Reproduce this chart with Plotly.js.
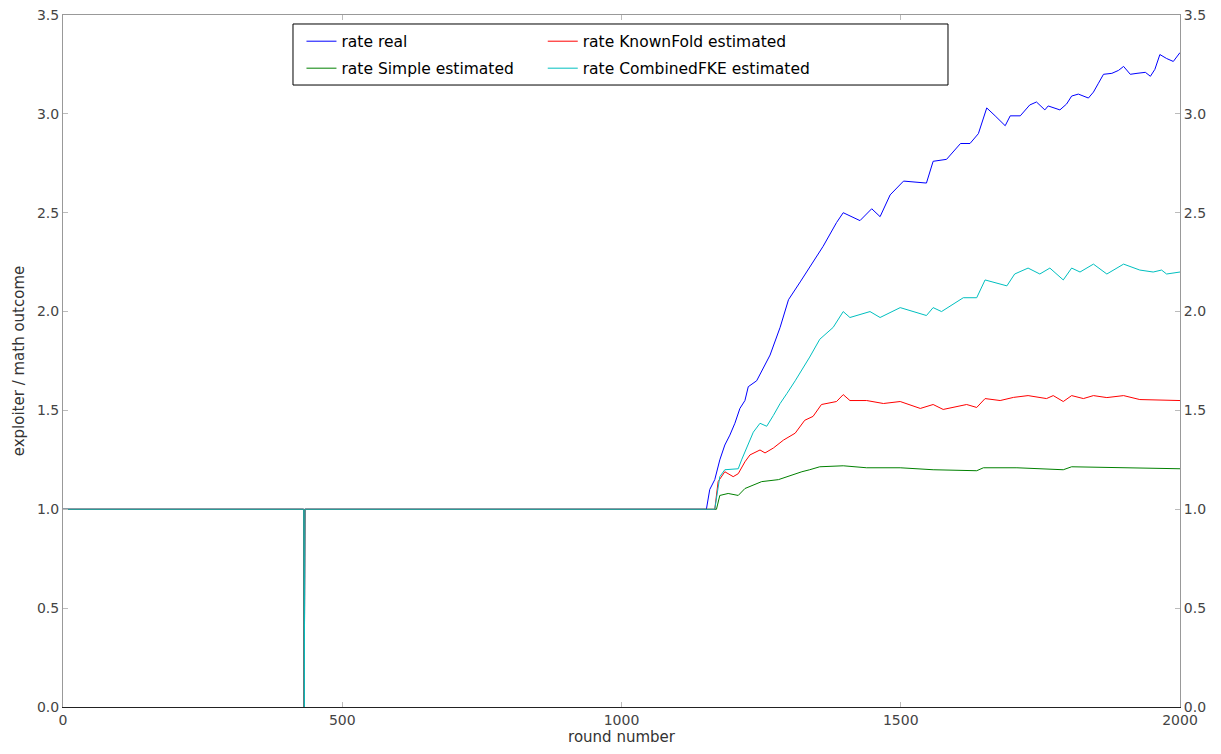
<!DOCTYPE html>
<html><head><meta charset="utf-8">
<script src="https://cdn.plot.ly/plotly-3.0.1.min.js"></script>
<style>html,body{margin:0;padding:0;background:#fff;}#chart{width:1221px;height:754px;}</style>
</head><body><div id="chart"></div>
<script>
const realX = [0,431,432,433,1152,1158,1167,1176,1185,1194,1203,1212,1221,1227,1242,1266,1284,1299,1320,1341,1361,1385,1397,1427,1448,1463,1481,1505,1546,1558,1582,1607,1624,1639,1654,1669,1687,1696,1714,1731,1743,1758,1764,1785,1797,1806,1818,1836,1845,1854,1863,1878,1890,1899,1911,1923,1938,1947,1955,1964,1976,1988,2000];
const realY = [1,1,0,1,1,1.10,1.15,1.25,1.325,1.375,1.435,1.51,1.55,1.62,1.65,1.78,1.92,2.06,2.15,2.24,2.33,2.45,2.50,2.46,2.52,2.48,2.59,2.66,2.65,2.76,2.77,2.85,2.85,2.90,3.03,2.99,2.94,2.99,2.99,3.045,3.06,3.02,3.04,3.02,3.05,3.09,3.10,3.08,3.11,3.155,3.20,3.205,3.22,3.24,3.20,3.205,3.21,3.19,3.225,3.30,3.28,3.265,3.31];

const simpleX = [0,431,432,433,1170,1176,1191,1209,1221,1251,1281,1305,1323,1337,1355,1397,1439,1499,1558,1636,1648,1708,1791,1806,1887,2000];
const simpleY = [1,1,0,1,1,1.07,1.08,1.07,1.105,1.14,1.15,1.175,1.19,1.20,1.215,1.22,1.21,1.21,1.20,1.195,1.21,1.21,1.20,1.215,1.21,1.205];

const knownX = [0,431,432,433,1167,1173,1185,1200,1209,1221,1230,1248,1257,1272,1290,1311,1328,1343,1358,1385,1397,1409,1439,1469,1499,1535,1558,1576,1618,1636,1651,1678,1702,1728,1761,1773,1791,1806,1827,1845,1869,1899,1928,1976,2000];
const knownY = [1,1,0,1,1,1.14,1.19,1.165,1.18,1.24,1.275,1.30,1.285,1.31,1.35,1.385,1.45,1.47,1.53,1.545,1.58,1.55,1.55,1.535,1.545,1.51,1.53,1.505,1.53,1.515,1.56,1.55,1.566,1.575,1.56,1.575,1.545,1.575,1.56,1.575,1.565,1.575,1.555,1.55,1.55];

const combX = [0,431,432,433,1167,1176,1185,1209,1215,1227,1236,1248,1260,1272,1284,1296,1311,1337,1355,1379,1397,1409,1445,1463,1499,1546,1558,1573,1612,1636,1651,1690,1704,1728,1749,1767,1791,1806,1821,1845,1869,1899,1928,1952,1967,1976,2000];
const combY = [1,1,0,1,1,1.165,1.20,1.205,1.25,1.33,1.39,1.435,1.42,1.475,1.535,1.585,1.65,1.77,1.86,1.92,2.00,1.97,2.00,1.97,2.02,1.98,2.02,2.00,2.07,2.07,2.16,2.13,2.19,2.22,2.19,2.22,2.16,2.22,2.20,2.24,2.19,2.24,2.21,2.20,2.21,2.19,2.20];

const seriesNames = ['rate real','rate Simple estimated','rate KnownFold estimated','rate CombinedFKE estimated'];
const seriesColors = ['#0000ff','#008000','#ff0000','#00bfbf'];
const seriesLegend = ['legend','legend2','legend3','legend4'];
const xTicks = [0,500,1000,1500,2000];
const yTicks = [0,0.5,1,1.5,2,2.5,3,3.5];

const xs = [realX, simpleX, knownX, combX];
const ys = [realY, simpleY, knownY, combY];
const traces = xs.map((x,i)=>({
  x: x, y: ys[i], type:'scatter', mode:'lines', name: seriesNames[i],
  line:{color: seriesColors[i], width:1}, legend: seriesLegend[i], hoverinfo:'skip'
}));
traces.push({x:[0,2000], y:[0,3.5], xaxis:'x2', yaxis:'y2', mode:'lines', line:{width:0, color:'rgba(0,0,0,0)'}, showlegend:false, hoverinfo:'skip'});

const tickFont = {family:'DejaVu Sans', size:14, color:'#444'};
const axBase = {ticks:'inside', ticklen:5, tickcolor:'#bbb', tickwidth:1, showgrid:false, zeroline:false, showline:true, tickfont: tickFont, automargin:false};
const legFont = {family:'DejaVu Sans', size:15.5, color:'#000'};
const legBase = {orientation:'v', xanchor:'left', yanchor:'top', borderwidth:0, bgcolor:'rgba(0,0,0,0)', font:legFont, itemwidth:30, tracegroupgap:0};

const layout = {
  width:1221, height:754,
  margin:{l:63, r:41, t:15, b:47, autoexpand:false},
  paper_bgcolor:'#fff', plot_bgcolor:'#fff',
  font:{family:'DejaVu Sans', color:'#333'},
  showlegend:true,
  legend: Object.assign({}, legBase, {x:0.2135, y:0.9861}),
  legend2: Object.assign({}, legBase, {x:0.2135, y:0.9471}),
  legend3: Object.assign({}, legBase, {x:0.4295, y:0.9861}),
  legend4: Object.assign({}, legBase, {x:0.4295, y:0.9471}),
  shapes:[{type:'rect', xref:'paper', yref:'paper', x0:0.2059, x1:0.7923, y0:0.8988, y1:0.987, line:{color:'#000', width:1}, fillcolor:'#fff', layer:'above'}],
  xaxis: Object.assign({}, axBase, {range:[0,2000], tickvals:xTicks, ticktext:xTicks.map(String), linecolor:'#222',
    title:{text:'round number', font:{family:'DejaVu Sans', size:15, color:'#333'}, standoff:4}}),
  xaxis2: Object.assign({}, axBase, {range:[0,2000], tickvals:xTicks, overlaying:'x', side:'top', showticklabels:false, linecolor:'#999'}),
  yaxis: Object.assign({}, axBase, {range:[0,3.5], tickvals:yTicks, tickformat:'.1f', linecolor:'#999',
    title:{text:'exploiter / math outcome', font:{family:'DejaVu Sans', size:15, color:'#333'}, standoff:8}}),
  yaxis2: Object.assign({}, axBase, {range:[0,3.5], tickvals:yTicks, tickformat:'.1f', overlaying:'y', side:'right', linecolor:'#999'})
};
Plotly.newPlot('chart', traces, layout, {staticPlot:true});
</script></body></html>
